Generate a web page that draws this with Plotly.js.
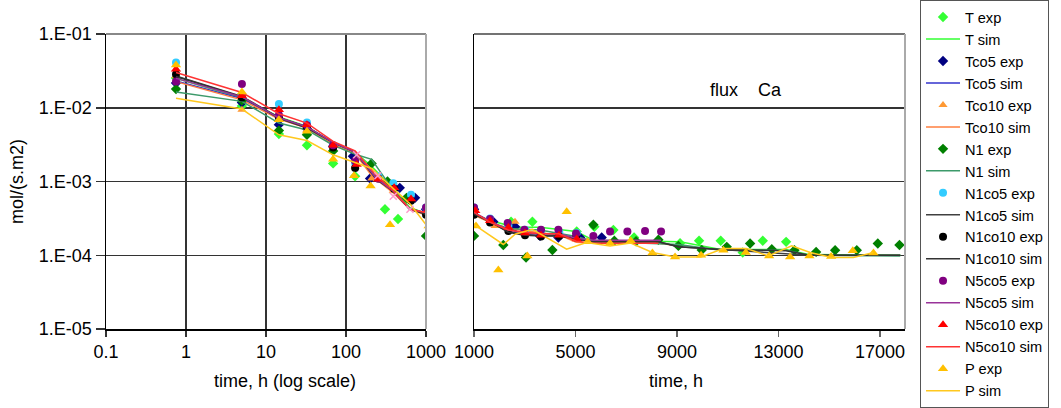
<!DOCTYPE html>
<html>
<head>
<meta charset="utf-8">
<script src="https://cdn.plot.ly/plotly-3.0.1.min.js"></script>
<style>html,body{margin:0;padding:0;background:#fff;}#chart{width:1061px;height:408px;}</style>
</head>
<body>
<div id="chart"></div>
<script>
// ---- tick labels ----
const yTickVals = [1e-5, 1e-4, 1e-3, 1e-2, 1e-1];
const yTickText = ["1.E-05", "1.E-04", "1.E-03", "1.E-02", "1.E-01"];
const xLogTickVals = [0.1, 1, 10, 100, 1000];
const xLogTickText = ["0.1", "1", "10", "100", "1000"];
const xLinTickVals = [1000, 5000, 9000, 13000, 17000];
const xLinTickText = ["1000", "5000", "9000", "13000", "17000"];

// ---- T ----
const T_exp_t = [0.75, 5, 14.5, 32.5, 69, 130, 307, 447, 2460, 3300, 5046, 5743, 6492, 7307, 9120, 9869, 10723, 11590, 12380, 13300];
const T_exp_v = [0.0254, 0.0106, 0.0044, 0.0031, 0.00176, 0.00118, 0.00042, 0.00031, 2.84e-4, 2.84e-4, 2.1e-4, 2.43e-4, 2.2e-4, 1.74e-4, 1.46e-4, 1.57e-4, 1.57e-4, 1.09e-4, 1.57e-4, 1.52e-4];
const T_sim_t = [0.75, 5, 14.5, 32.5, 69, 130, 210, 390, 630, 1000, 1630, 2620, 3600, 5030, 5700, 9120, 10720, 13300, 14220, 17800];
const T_sim_v = [0.025, 0.0135, 0.0075, 0.0056, 0.0033, 0.0025, 0.0016, 0.0008, 0.00044, 0.00037, 2.95e-4, 2.4e-4, 2.4e-4, 2.1e-4, 1.6e-4, 1.52e-4, 1.2e-4, 1.2e-4, 1.02e-4, 1.0e-4];

// ---- Tco5 ----
const Tco5_exp_t = [0.75, 5, 14.5, 32.5, 69, 122, 200, 470, 730, 1000, 1760, 2616, 3601, 4324, 5178, 6032];
const Tco5_exp_v = [0.0216, 0.0118, 0.0059, 0.0052, 0.0030, 0.0022, 0.0011, 0.00082, 0.0006, 4.2e-4, 2.84e-4, 2.43e-4, 1.83e-4, 1.74e-4, 1.74e-4, 1.74e-4];
const Tco5_sim_t = [0.75, 5, 14.5, 32.5, 69, 130, 210, 390, 630, 1000, 1630, 2350, 3000, 3640, 4340, 5030, 5700, 8270];
const Tco5_sim_v = [0.023, 0.0133, 0.0073, 0.0055, 0.0033, 0.0024, 0.0013, 0.00075, 0.00042, 0.00037, 2.85e-4, 2.1e-4, 1.9e-4, 1.85e-4, 1.85e-4, 1.68e-4, 1.55e-4, 1.52e-4];

// ---- Tco10 ----
const Tco10_exp_t = [0.75, 5, 14.5, 32.5, 69, 130, 210, 390, 630, 1000, 1828, 2616, 3641];
const Tco10_exp_v = [0.027, 0.0094, 0.0068, 0.0050, 0.0028, 0.0016, 0.0011, 0.00075, 0.00055, 3.8e-4, 2.5e-4, 2.84e-4, 2.14e-4];
const Tco10_sim_t = [0.75, 5, 14.5, 32.5, 69, 130, 210, 390, 630, 1000, 1830, 2620, 3640, 4340, 5030, 5700, 8270, 9050];
const Tco10_sim_v = [0.0226, 0.0128, 0.0070, 0.0053, 0.0032, 0.0024, 0.0012, 0.0007, 0.00042, 0.00035, 2.6e-4, 2.25e-4, 2.0e-4, 1.9e-4, 1.5e-4, 1.45e-4, 1.45e-4, 1.34e-4];

// ---- N1 ----
const N1_exp_t = [0.75, 5, 14.5, 32.5, 69, 209, 330, 570, 1000, 2155, 3050, 4088, 5703, 6531, 7386, 8266, 9054, 9974, 10960, 11880, 12735, 13628, 14482, 15231, 16085, 16913, 17767];
const N1_exp_v = [0.0179, 0.0125, 0.0049, 0.0043, 0.0026, 0.00176, 0.001, 0.0006, 0.000183, 1.38e-4, 9.3e-5, 1.18e-4, 2.59e-4, 1.57e-4, 1.55e-4, 1.62e-4, 1.34e-4, 1.18e-4, 1.30e-4, 1.44e-4, 1.21e-4, 1.17e-4, 1.11e-4, 1.17e-4, 1.17e-4, 1.44e-4, 1.38e-4];
const N1_sim_t = [0.75, 5, 14.5, 32.5, 69, 136, 209, 337, 600, 1000, 1630, 2350, 3600, 5030, 5700, 9050, 10720, 13300, 14220, 17800];
const N1_sim_v = [0.0163, 0.0122, 0.0062, 0.0050, 0.0031, 0.0023, 0.0020, 0.00095, 0.00044, 0.00037, 2.8e-4, 2.3e-4, 2.2e-4, 1.8e-4, 1.55e-4, 1.4e-4, 1.17e-4, 1.17e-4, 1.0e-4, 0.98e-4];

// ---- N1co5 ----
const N1co5_exp_t = [0.75, 5, 14.5, 32.5, 69, 130, 253, 390, 650, 1000, 1631, 2354, 3010, 3641, 4363, 5046];
const N1co5_exp_v = [0.041, 0.0145, 0.0112, 0.0063, 0.0031, 0.0018, 0.00118, 0.00095, 0.00066, 4.45e-4, 3.16e-4, 2.51e-4, 2.21e-4, 2.14e-4, 2.04e-4, 2.0e-4];
const N1co5_sim_t = [0.75, 5, 14.5, 32.5, 69, 130, 240, 390, 630, 1000, 1630, 2350, 3000, 3640, 4340, 5030, 5700, 8270, 9050, 10720, 14220, 17800];
const N1co5_sim_v = [0.027, 0.0142, 0.0074, 0.0055, 0.0034, 0.0025, 0.0011, 0.00074, 0.00042, 0.00037, 2.9e-4, 2.1e-4, 1.9e-4, 1.85e-4, 1.85e-4, 1.68e-4, 1.52e-4, 1.52e-4, 1.3e-4, 1.2e-4, 1.0e-4, 1.0e-4];

// ---- N1co10 ----
const N1co10_exp_t = [0.75, 5, 14.5, 32.5, 69, 130, 253, 400, 650, 1000, 1631, 2354, 3010, 3641, 4350, 5020];
const N1co10_exp_v = [0.0285, 0.0138, 0.0074, 0.0055, 0.0029, 0.00153, 0.0011, 0.0008, 0.00055, 3.53e-4, 2.79e-4, 2.14e-4, 1.87e-4, 1.8e-4, 1.83e-4, 1.74e-4];
const N1co10_sim_t = [0.75, 5, 14.5, 32.5, 69, 130, 240, 390, 630, 1000, 1630, 2350, 3000, 3640, 4340, 5030, 5700, 8270, 9050, 10720, 13300, 14220, 17800];
const N1co10_sim_v = [0.0265, 0.0140, 0.0072, 0.0053, 0.0034, 0.0025, 0.00107, 0.00074, 0.00042, 0.00036, 2.85e-4, 2.05e-4, 1.87e-4, 1.83e-4, 1.83e-4, 1.66e-4, 1.52e-4, 1.52e-4, 1.3e-4, 1.2e-4, 1.15e-4, 1.0e-4, 1.0e-4];

// ---- N5co5 ----
const N5co5_exp_t = [0.75, 5, 14.5, 32.5, 69, 130, 253, 1000, 1631, 2327, 2984, 3641, 4324, 5020, 5703, 6360, 7044, 7740, 8371];
const N5co5_exp_v = [0.0227, 0.021, 0.008, 0.0058, 0.0031, 0.0019, 0.0011, 4.45e-4, 3.1e-4, 2.73e-4, 2.21e-4, 2.21e-4, 2.21e-4, 1.97e-4, 1.83e-4, 2.1e-4, 2.1e-4, 2.14e-4, 2.1e-4];
const N5co5_sim_t = [0.75, 5, 14.5, 32.5, 69, 130, 240, 390, 630, 1000, 1630, 2350, 3000, 3640, 4340, 5030, 5700, 8370];
const N5co5_sim_v = [0.025, 0.0140, 0.0073, 0.0055, 0.0034, 0.0025, 0.0011, 0.00074, 0.00042, 0.00038, 2.9e-4, 2.2e-4, 2.0e-4, 1.95e-4, 1.95e-4, 1.7e-4, 1.6e-4, 1.6e-4];

// ---- N5co10 ----
const N5co10_exp_t = [0.75, 5, 14.5, 32.5, 69, 136, 253, 400, 650, 1050, 1631, 2354, 3010, 3641, 4350, 5046];
const N5co10_exp_v = [0.0333, 0.0145, 0.0094, 0.0059, 0.0031, 0.0017, 0.00107, 0.00082, 0.00058, 4.0e-4, 2.93e-4, 2.38e-4, 2.0e-4, 1.87e-4, 1.87e-4, 1.66e-4];
const N5co10_sim_t = [0.75, 5, 14.5, 32.5, 69, 130, 240, 390, 630, 1000, 1630, 2350, 3000, 3640, 4340, 5030, 5700, 8270];
const N5co10_sim_v = [0.030, 0.0161, 0.0083, 0.0062, 0.0035, 0.0026, 0.0012, 0.00075, 0.00042, 0.00038, 2.8e-4, 2.2e-4, 2.05e-4, 1.95e-4, 1.95e-4, 1.55e-4, 1.45e-4, 1.45e-4];

// ---- P ----
const P_exp_t = [0.75, 5, 14.5, 32.5, 69, 126, 203, 355, 1079, 1959, 3102, 4652, 5480, 6360, 7175, 8029, 8923, 9948, 10828, 11709, 12630, 13457, 14220, 15073, 15927, 16742];
const P_exp_v = [0.038, 0.0163, 0.0069, 0.0048, 0.0020, 0.0012, 0.00087, 0.00026, 2.5e-4, 6.3e-5, 9.8e-5, 3.9e-4, 1.52e-4, 1.46e-4, 1.57e-4, 1.07e-4, 9.5e-5, 1.0e-4, 1.17e-4, 1.09e-4, 9.8e-5, 9.5e-5, 9.8e-5, 9.6e-5, 1.15e-4, 1.07e-4];
const P_sim_t = [0.75, 5, 14.5, 32.5, 69, 130, 210, 390, 630, 1000, 2155, 2620, 3300, 4650, 5430, 6360, 7175, 8029, 8923, 9948, 10830, 11740, 12600, 13520, 14250, 15100, 15950, 16740];
const P_sim_v = [0.0135, 0.0096, 0.0043, 0.0036, 0.0023, 0.0018, 0.0015, 0.0008, 0.0005, 2.6e-4, 1.4e-4, 1.93e-4, 2.25e-4, 1.21e-4, 1.49e-4, 1.34e-4, 1.46e-4, 1.09e-4, 9.5e-5, 9.5e-5, 1.23e-4, 1.23e-4, 9.8e-5, 1.34e-4, 1.09e-4, 9.3e-5, 9.3e-5, 1.09e-4];

// ---- extra series (pink crosses, not in visible legend) ----
const X_exp_t = [136, 250, 390, 630];
const X_exp_v = [0.0023, 0.0012, 0.00063, 0.00042];

const series = [
  {n: "T",      et: T_exp_t,      ev: T_exp_v,      st: T_sim_t,      sv: T_sim_v,      sym: "diamond",     mc: "#33FF33", lc: "#33FF33", ms: 8},
  {n: "Tco5",   et: Tco5_exp_t,   ev: Tco5_exp_v,   st: Tco5_sim_t,   sv: Tco5_sim_v,   sym: "diamond",     mc: "#000080", lc: "#3333CC", ms: 8},
  {n: "Tco10",  et: Tco10_exp_t,  ev: Tco10_exp_v,  st: Tco10_sim_t,  sv: Tco10_sim_v,  sym: "triangle-up", mc: "#FF9933", lc: "#FF7F3F", ms: 8},
  {n: "N1",     et: N1_exp_t,     ev: N1_exp_v,     st: N1_sim_t,     sv: N1_sim_v,     sym: "diamond",     mc: "#008000", lc: "#3C9A6A", ms: 8},
  {n: "N1co5",  et: N1co5_exp_t,  ev: N1co5_exp_v,  st: N1co5_sim_t,  sv: N1co5_sim_v,  sym: "circle",      mc: "#33CCFF", lc: "#404040", ms: 8},
  {n: "N1co10", et: N1co10_exp_t, ev: N1co10_exp_v, st: N1co10_sim_t, sv: N1co10_sim_v, sym: "circle",      mc: "#000000", lc: "#333333", ms: 8},
  {n: "N5co5",  et: N5co5_exp_t,  ev: N5co5_exp_v,  st: N5co5_sim_t,  sv: N5co5_sim_v,  sym: "circle",      mc: "#800080", lc: "#993399", ms: 8},
  {n: "N5co10", et: N5co10_exp_t, ev: N5co10_exp_v, st: N5co10_sim_t, sv: N5co10_sim_v, sym: "triangle-up", mc: "#FF0000", lc: "#FF3333", ms: 9},
  {n: "P",      et: P_exp_t,      ev: P_exp_v,      st: P_sim_t,      sv: P_sim_v,      sym: "triangle-up", mc: "#FFC000", lc: "#FFC81E", ms: 9}
];

const traces = [];
function addTraces(xa, ya, showLeg) {
  series.forEach(s => {
    traces.push({
      type: "scatter", mode: "markers", name: s.n + " exp", legendgroup: s.n + "e",
      x: s.et, y: s.ev, xaxis: xa, yaxis: ya, showlegend: showLeg,
      marker: {symbol: s.sym, color: s.mc, size: s.ms, line: {width: 0}}
    });
    traces.push({
      type: "scatter", mode: "lines", name: s.n + " sim", legendgroup: s.n + "s",
      x: s.st, y: s.sv, xaxis: xa, yaxis: ya, showlegend: showLeg,
      line: {color: s.lc, width: 1.5}
    });
  });
  traces.push({
    type: "scatter", mode: "markers", name: "x", x: X_exp_t, y: X_exp_v,
    xaxis: xa, yaxis: ya, showlegend: false,
    marker: {symbol: "x-thin-open", color: "#FF99CC", size: 7, line: {width: 1.5, color: "#FF99CC"}}
  });
}
addTraces("x", "y", true);
addTraces("x2", "y2", false);

const FONT = "Liberation Sans, Arial, sans-serif";
const gridC = "#333333";

const layout = {
  width: 1061, height: 408,
  margin: {l: 106, r: 156, t: 34, b: 79},
  paper_bgcolor: "#ffffff", plot_bgcolor: "#ffffff",
  font: {family: FONT, size: 18, color: "#000"},
  showlegend: true,
  legend: {
    x: 1.0188, xanchor: "left", y: 1.0746, yanchor: "top",
    traceorder: "normal", bordercolor: "#555", borderwidth: 1, bgcolor: "#fff",
    font: {family: FONT, size: 14.6, color: "#000"}, tracegroupgap: 0,
    itemwidth: 34, maxheight: 2000
  },
  xaxis: {
    type: "log", range: [-1, 3], domain: [0, 0.4005], anchor: "y",
    tickvals: xLogTickVals, ticktext: xLogTickText,
    showgrid: true, gridcolor: gridC, gridwidth: 1.5, zeroline: false,
    showline: true, linecolor: "#000", linewidth: 1.5,
    ticks: "outside", ticklen: 6, tickcolor: "#333", tickwidth: 1.5,
    tickfont: {size: 18}
  },
  yaxis: {
    type: "log", range: [-5, -1], domain: [0, 1], anchor: "x",
    tickvals: yTickVals, ticktext: yTickText,
    showgrid: true, gridcolor: gridC, gridwidth: 1.5, zeroline: false,
    showline: true, linecolor: "#000", linewidth: 1.5,
    ticks: "outside", ticklen: 9, tickcolor: "#333", tickwidth: 1.5,
    tickfont: {size: 18},
    title: {text: "mol/(s.m2)", font: {size: 18}, standoff: 10}
  },
  xaxis2: {
    type: "linear", range: [1000, 17985], domain: [0.4606, 1], anchor: "y2",
    tickvals: xLinTickVals, ticktext: xLinTickText,
    showgrid: false, zeroline: false,
    showline: true, linecolor: "#000", linewidth: 1.5,
    ticks: "outside", ticklen: 6, tickcolor: "#666", tickwidth: 1.5,
    tickfont: {size: 18}
  },
  yaxis2: {
    type: "log", range: [-5, -1], domain: [0, 1], anchor: "x2",
    tickvals: yTickVals, showticklabels: false,
    showgrid: true, gridcolor: gridC, gridwidth: 1.5, zeroline: false,
    showline: true, linecolor: "#000", linewidth: 1.5, ticks: ""
  },
  shapes: [
    {type: "line", xref: "x domain", yref: "y domain", x0: 0, x1: 1, y0: 1, y1: 1, line: {color: "#888", width: 2}},
    {type: "line", xref: "x domain", yref: "y domain", x0: 1, x1: 1, y0: 0, y1: 1, line: {color: "#aaa", width: 2}},
    {type: "line", xref: "x2 domain", yref: "y2 domain", x0: 0, x1: 1, y0: 1, y1: 1, line: {color: "#444", width: 1.5}},
    {type: "line", xref: "x2 domain", yref: "y2 domain", x0: 1, x1: 1, y0: 0, y1: 1, line: {color: "#aaa", width: 2}}
  ],
  annotations: [
    {text: "flux\u00a0\u00a0\u00a0\u00a0Ca", xref: "x2 domain", yref: "y2 domain", x: 0.631, y: 0.851,
     showarrow: false, font: {family: FONT, size: 18, color: "#000"}},
    {text: "time, h (log scale)", xref: "paper", yref: "paper", x: 0.224, y: -0.176,
     xanchor: "center", yanchor: "middle", showarrow: false, font: {family: FONT, size: 18, color: "#000"}},
    {text: "time, h", xref: "paper", yref: "paper", x: 0.7134, y: -0.176,
     xanchor: "center", yanchor: "middle", showarrow: false, font: {family: FONT, size: 18, color: "#000"}}
  ]
};

Plotly.newPlot("chart", traces, layout, {displayModeBar: false, staticPlot: true});
</script>
</body>
</html>
